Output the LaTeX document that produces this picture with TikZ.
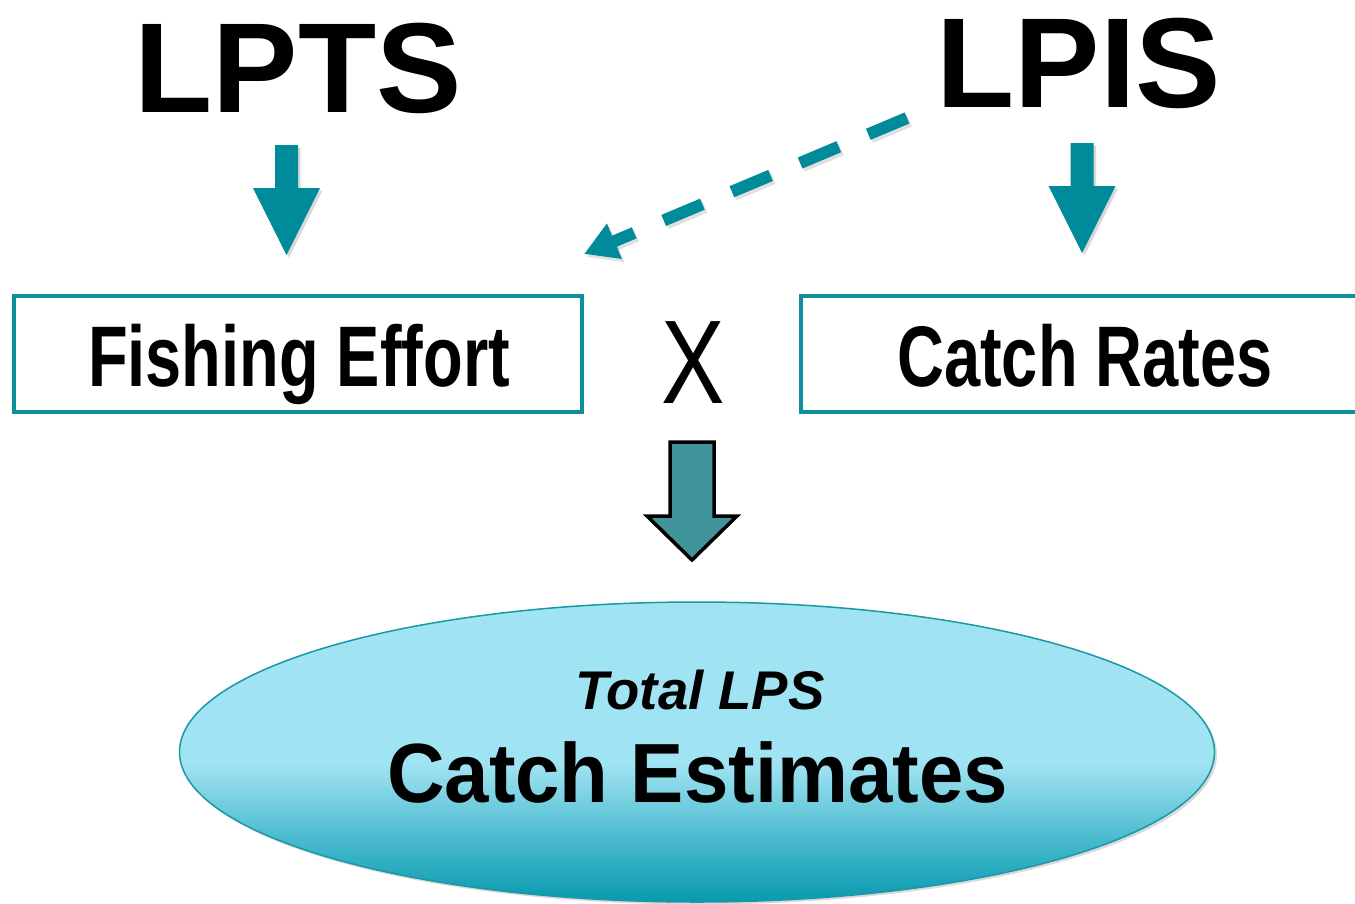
\documentclass[tikz,border=0pt]{standalone}
\usepackage{fontspec}
\setmainfont{Liberation Sans}
\usetikzlibrary{arrows.meta,shapes.geometric,shadows}
\definecolor{tealarrow}{HTML}{008B9A}
\definecolor{boxteal}{HTML}{0F8E9C}
\definecolor{blockfill}{HTML}{41959A}
\definecolor{ellborder}{HTML}{1898A8}
\definecolor{elltop}{HTML}{A0E3F3}
\definecolor{elllight}{HTML}{8CD9E9}
\definecolor{ellmid}{HTML}{4CBCCF}
\definecolor{ellbot}{HTML}{089AAE}
\pgfdeclareverticalshading{ellshade}{100bp}{color(0bp)=(ellbot); color(25bp)=(ellbot); color(36bp)=(ellmid); color(45bp)=(elllight); color(48bp)=(elltop); color(100bp)=(elltop)}
\tikzset{
  softshadow/.style={drop shadow={shadow xshift=2.5pt,shadow yshift=-2.5pt,opacity=.15,fill=black}},
  txt/.style={inner sep=0pt, anchor=base, text=black},
  boxnode/.style={draw=boxteal, line width=4.5pt, minimum width=568pt, minimum height=116pt, inner sep=0pt},
}
\newcommand\tealdown[1]{%
  \fill[tealarrow, softshadow] (#1) ++(-11.5,0) -- ++(23,0) -- ++(0,43) -- ++(22,0)
    -- ++(-33.5,67) -- ++(-33.5,-67) -- ++(22,0) -- cycle;}
\begin{document}
\begin{tikzpicture}[x=1pt,y=-1pt]
\useasboundingbox (0,0) rectangle (1355,903);
\clip (0,0) rectangle (1355,903);

% titles
\node[txt] (lpts) at (298,112) {\fontsize{128}{128}\selectfont\bfseries LPTS};
\node[txt] (lpis) at (1079,107) {\fontsize{128}{128}\selectfont\bfseries LPIS};

% boxes
\node[boxnode] (effort) at (298,354) {};
\node[boxnode] (rates) at (1085,354) {};
\node[txt] (efforttxt) at (299,386) {\scalebox{0.755}[1]{\fontsize{86}{86}\selectfont\bfseries Fishing Effort}};
\node[txt] (ratestxt) at (1085,386) {\scalebox{0.755}[1]{\fontsize{86}{86}\selectfont\bfseries Catch Rates}};
\node[txt] (times) at (693.5,403) {\scalebox{0.8}[1]{\fontsize{119}{119}\selectfont X}};

% teal down arrows
\coordinate (a1) at (286.5,145);
\coordinate (a2) at (1082,143);
\tealdown{a1}
\tealdown{a2}

% dashed arrow
\coordinate (ds) at (907,118);
\coordinate (de) at (584,254);
\draw[black, opacity=.12, line width=12pt, dash pattern=on 42pt off 32pt,
  -{Triangle[length=33pt,width=36pt]}] ([shift={(2.5,3)}]ds) -- ([shift={(2.5,3)}]de);
\draw[tealarrow, line width=12pt, dash pattern=on 42pt off 32pt,
  -{Triangle[length=33pt,width=36pt]}] (ds) -- (de);

% block arrow
\filldraw[fill=blockfill, draw=black, line width=3.5pt, line join=miter]
  (670,442) -- (714,442) -- (714,516) -- (737,516) -- (692,560) -- (647,516) -- (670,516) -- cycle;

% ellipse
\node[ellipse, draw=ellborder, line width=1.5pt, shading=ellshade, softshadow,
  minimum width=1035pt, minimum height=300pt, inner sep=0pt] (est) at (697,752) {};
\node[txt] (totaltxt) at (700,709) {\fontsize{54.5}{54.5}\selectfont\bfseries\itshape Total LPS};
\node[txt] (esttxt) at (697.5,802) {\scalebox{0.95}[1]{\fontsize{84}{84}\selectfont\bfseries Catch Estimates}};
\end{tikzpicture}
\end{document}
